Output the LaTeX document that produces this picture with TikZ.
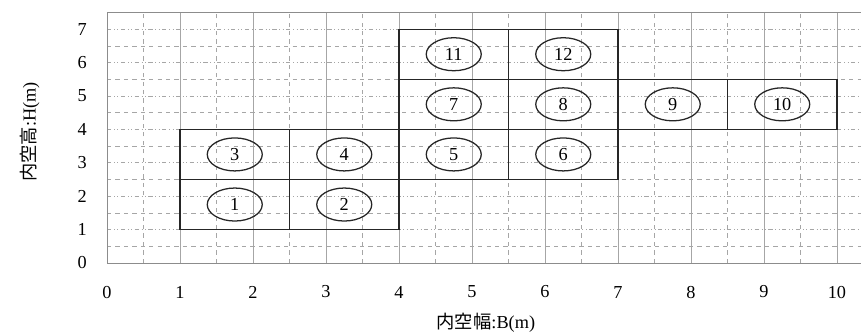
\documentclass[tikz,border=0pt]{standalone}
\usepackage{fontspec}
\setmainfont{Liberation Serif}
\newfontfamily\jpfont{Noto Sans CJK JP}
\usetikzlibrary{positioning,shapes.geometric}
\newcommand{\numsize}{\fontsize{13}{15}\selectfont}

\begin{document}
\begin{tikzpicture}[
  x=1.825cm, y=0.835cm,
  majx/.style={gray!70, line width=0.45pt},
  minx/.style={gray!70, dashed, line width=0.45pt},
  majy/.style={gray!70, dash dot dot, line width=0.45pt},
  miny/.style={gray!70, dashed, line width=0.45pt},
  frame/.style={gray!90, line width=0.6pt},
  cell/.style={draw=black!85, line width=0.9pt},
  tag/.style={ellipse, draw=black!85, line width=0.9pt, minimum width=1.375cm,
    minimum height=0.825cm, inner sep=0pt, font=\numsize},
  tick/.style={font=\numsize},
]
  \useasboundingbox (-1.466,-2.186) rectangle (10.329,7.874);

  % grid
  \foreach \i in {0.5,1.5,...,9.5} \draw[minx] (\i,0) -- (\i,7.5);
  \foreach \i in {1,...,10} \draw[majx] (\i,0) -- (\i,7.5);
  \foreach \j in {0.5,1.5,...,6.5} \draw[miny] (0,\j) -- (10.33,\j);
  \foreach \j in {1,...,7} \draw[majy] (0,\j) -- (10.33,\j);
  \draw[frame] (10.33,7.5) -- (0,7.5) -- (0,0) -- (10.33,0);

  % cells
  \foreach \x/\y/\n in {1/1/1, 2.5/1/2, 1/2.5/3, 2.5/2.5/4, 4/2.5/5, 5.5/2.5/6,
      4/4/7, 5.5/4/8, 7/4/9, 8.5/4/10, 4/5.5/11, 5.5/5.5/12} {
    \draw[cell] (\x,\y) rectangle ++(1.5,1.5);
    \node[tag] (t\n) at (\x+0.75,\y+0.75) {\n};
  }

  % axes
  \foreach \i in {0,...,10} \node[tick] (bx\i) at (\i,-0.87) {\i};
  \foreach \j in {0,...,7} \node[tick] (hy\j) at (-0.34,\j) {\j};
  \node[tick] (blab) at (5.19,-1.8) {{\jpfont 内空幅}:B(m)};
  \node[tick, rotate=90] (hlab) at (-1.055,3.92) {{\jpfont 内空高}:H(m)};
\end{tikzpicture}
\end{document}
